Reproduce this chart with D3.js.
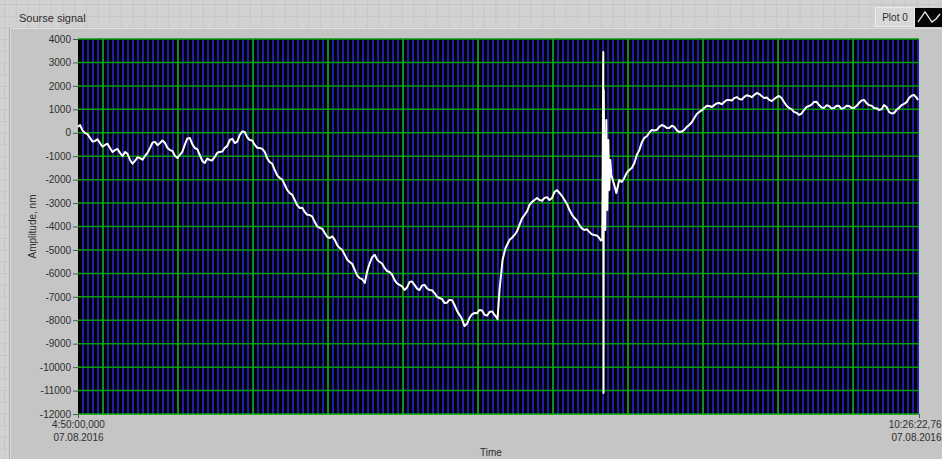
<!DOCTYPE html>
<html>
<head>
<meta charset="utf-8">
<script src="https://cdn.jsdelivr.net/npm/d3@7"></script>
<style>
  html, body { margin: 0; padding: 0; background: #d2d2d2; }
  svg { display: block; }
  text { font-family: "Liberation Sans", Arial, sans-serif; fill: #2e2e2e; }
</style>
</head>
<body>
<svg id="chart" width="942" height="459"></svg>
<script>
// Recording window: 07.08.2016 04:50:00,000 -> 10:26:22,760
const startTime = new Date(2016, 7, 7, 4, 50, 0, 0);
const endTime = new Date(2016, 7, 7, 10, 26, 22, 760);

// Sample times, minutes after 04:50:00 (ten per row, rows match the amplitude rows)
const minutes = [
  0, 0.8, 1.8, 2.8, 3.8, 4.8, 5.8, 6.8, 7.8, 8.8,
  9.8, 10.8, 11.8, 12.8, 13.8, 14.8, 15.8, 16.8, 17.8, 18.8,
  19.8, 20.8, 21.8, 22.8, 23.8, 24.8, 25.8, 26.8, 27.8, 28.8,
  29.8, 30.8, 31.8, 32.8, 33.8, 34.8, 35.8, 36.8, 37.8, 38.8,
  39.8, 40.7, 41.7, 42.7, 43.7, 44.7, 45.7, 46.7, 47.7, 48.7,
  49.7, 50.7, 51.7, 52.7, 53.7, 54.7, 55.7, 56.7, 57.7, 58.7,
  59.7, 60.7, 61.7, 62.7, 63.7, 64.7, 65.7, 66.7, 67.7, 68.7,
  69.7, 70.7, 71.7, 72.7, 73.7, 74.7, 75.7, 76.7, 77.7, 78.7,
  79.7, 80.7, 81.7, 82.7, 83.7, 84.7, 85.7, 86.7, 87.7, 88.7,
  89.7, 90.7, 91.7, 92.7, 93.7, 94.7, 95.7, 96.7, 97.7, 98.7,
  99.7, 100.7, 101.7, 102.7, 103.7, 104.7, 105.7, 106.7, 107.7, 108.7,
  109.7, 110.7, 111.7, 112.7, 113.7, 114.7, 115.7, 116.7, 117.7, 118.7,
  119.7, 120.6, 121.6, 122.6, 123.6, 124.6, 125.6, 126.6, 127.6, 128.6,
  129.6, 130.6, 131.6, 132.6, 133.6, 134.6, 135.6, 136.6, 137.6, 138.6,
  139.6, 140.6, 141.6, 142.6, 143.6, 144.6, 145.6, 146.6, 147.6, 148.6,
  149.6, 150.6, 151.6, 152.6, 153.6, 154.6, 155.6, 156.6, 157.6, 158.6,
  159.6, 160.6, 161.6, 162.6, 163.6, 164.6, 165.6, 166.6, 167.2, 167.8,
  168.6, 169.8, 171.0, 172.6, 173.6, 174.6, 175.6, 176.6, 177.6, 178.6,
  179.6, 180.6, 181.6, 182.6, 183.6, 184.6, 185.6, 186.6, 187.6, 188.6,
  189.6, 190.6, 191.6, 192.6, 193.6, 194.6, 195.6, 196.6, 197.6, 198.6,
  199.6, 200.5, 201.5, 202.5, 203.5, 204.5, 205.5, 206.5, 207.5, 208.5,
  209.1, 209.7, 210.1, 210.2, 210.3, 210.5, 210.9, 211.3, 211.7, 212.1,
  212.5, 212.9, 213.3, 214.5, 215.3, 216.5, 217.5, 218.5, 219.5, 220.5,
  221.5, 222.5, 223.5, 224.5, 225.5, 226.5, 227.5, 228.5, 229.5, 230.5,
  231.5, 232.5, 233.5, 234.5, 235.5, 236.5, 237.5, 238.5, 239.5, 240.5,
  241.5, 242.5, 243.5, 244.5, 245.5, 246.5, 247.5, 248.5, 249.5, 250.5,
  251.5, 252.5, 253.5, 254.5, 255.5, 256.5, 257.5, 258.5, 259.5, 260.5,
  261.5, 262.5, 263.5, 264.5, 265.5, 266.5, 267.5, 268.5, 269.5, 270.5,
  271.5, 272.5, 273.5, 274.5, 275.5, 276.5, 277.5, 278.5, 279.5, 280.4,
  281.4, 282.4, 283.4, 284.4, 285.4, 286.4, 287.4, 288.4, 289.4, 290.4,
  291.4, 292.4, 293.4, 294.4, 295.4, 296.4, 297.4, 298.4, 299.4, 300.4,
  301.4, 302.4, 303.4, 304.4, 305.4, 306.4, 307.4, 308.4, 309.4, 310.4,
  311.4, 312.4, 313.4, 314.4, 315.4, 316.4, 317.4, 318.4, 319.4, 320.4,
  321.4, 322.4, 323.4, 324.4, 325.4, 326.4, 327.4, 328.4, 329.4, 330.4,
  331.4, 332.4, 333.4, 334.4, 335.4, 336.0
];

// Amplitude, nm
const amplitude = [
  250, 330, 100, -10, -60, -220, -380, -350, -280, -440,
  -600, -520, -470, -650, -820, -740, -690, -860, -1000, -820,
  -900, -1160, -1320, -1200, -1050, -1080, -1150, -990, -860, -650,
  -420, -390, -530, -440, -330, -440, -650, -740, -780, -990,
  -1080, -950, -820, -520, -250, -220, -480, -650, -700, -950,
  -1200, -1290, -1100, -1160, -1180, -1030, -850, -820, -800, -650,
  -560, -310, -260, -440, -380, -95, 60, 30, -200, -310,
  -330, -520, -640, -650, -690, -820, -1100, -1250, -1330, -1590,
  -1820, -1930, -2000, -2230, -2450, -2570, -2650, -2870, -3100, -3210,
  -3200, -3380, -3500, -3510, -3580, -3810, -4000, -4060, -4100, -4280,
  -4450, -4490, -4420, -4570, -4800, -4920, -5000, -5210, -5420, -5510,
  -5600, -5850, -6100, -6200, -6250, -6410, -5900, -5560, -5300, -5210,
  -5420, -5510, -5580, -5770, -5900, -5940, -6050, -6280, -6430, -6490,
  -6550, -6710, -6600, -6370, -6350, -6490, -6650, -6710, -6520, -6490,
  -6640, -6710, -6720, -6840, -7000, -7050, -7100, -7260, -7250, -7130,
  -7150, -7350, -7600, -7770, -7950, -8250, -8150, -7900, -7750, -7690,
  -7700, -7560, -7580, -7770, -7800, -7650, -7620, -7770, -7850, -7950,
  -6710, -5430, -4920, -4570, -4480, -4360, -4200, -3930, -3650, -3510,
  -3350, -3080, -2950, -2870, -2780, -2870, -2900, -2780, -2750, -2870,
  -2780, -2530, -2450, -2570, -2700, -2870, -3050, -3300, -3500, -3640,
  -3750, -3930, -4080, -4150, -4120, -4230, -4330, -4360, -4380, -4490,
  -4600, -4570, 3450, -11100, 1820, -1500, -4150, 540, -3300, -310,
  -2440, -1160, -1800, -2230, -2570, -2020, -2100, -1930, -1700, -1590,
  -1500, -1300, -950, -740, -420, -220, -150, 0, 120, 100,
  120, 250, 330, 290, 200, 200, 300, 250, 100, 30,
  50, 120, 250, 330, 450, 630, 800, 890, 950, 1060,
  1150, 1140, 1100, 1180, 1260, 1270, 1220, 1310, 1400, 1400,
  1380, 1480, 1520, 1440, 1420, 1530, 1600, 1570, 1520, 1610,
  1700, 1650, 1560, 1480, 1500, 1400, 1350, 1440, 1520, 1570,
  1480, 1310, 1150, 1060, 1000, 890, 850, 760, 820, 970,
  1100, 1140, 1200, 1310, 1320, 1180, 1080, 1060, 1170, 1140,
  1040, 1060, 1150, 1140, 1020, 1060, 1150, 1140, 1060, 1060,
  1150, 1270, 1380, 1400, 1260, 1180, 1150, 1060, 1050, 970,
  1000, 1180, 1100, 890, 820, 840, 980, 1060, 1180, 1230,
  1300, 1480, 1580, 1610, 1500, 1400
];

const yTicks = d3.range(-12000, 4001, 1000);
const startLabel = ["4:50:00,000", "07.08.2016"];
const endLabel = ["10:26:22,76", "07.08.2016"];

const svg = d3.select("#chart");
const W = 942, H = 459;
const plot = { left: 78, top: 39, right: 919, bottom: 414 };

// Front-panel background with its alignment grid
svg.append("rect").attr("width", W).attr("height", H).attr("fill", "#d2d2d2");
const bgGrid = svg.append("g").attr("stroke", "#c6c6c6").attr("stroke-width", 1);
d3.range(4.5, W, 11.7).forEach(x => bgGrid.append("line").attr("x1", x).attr("x2", x).attr("y1", 0).attr("y2", H));
d3.range(4.5, H, 11.7).forEach(y => bgGrid.append("line").attr("x1", 0).attr("x2", W).attr("y1", y).attr("y2", y));

// Graph control body
svg.append("rect").attr("x", 9).attr("y", 28).attr("width", W - 9).attr("height", H - 28)
  .attr("fill", "#c5c5c5");
svg.append("line").attr("x1", 9).attr("x2", W).attr("y1", 28.5).attr("y2", 28.5).attr("stroke", "#dedede");
svg.append("line").attr("x1", 9.5).attr("x2", 9.5).attr("y1", 28).attr("y2", H).attr("stroke", "#a9a9a9");
svg.append("line").attr("x1", 10.5).attr("x2", 10.5).attr("y1", 29).attr("y2", H).attr("stroke", "#dcdcdc");

// Caption
svg.append("text").attr("x", 19).attr("y", 22).attr("font-size", 11).attr("fill", "#333")
  .text("Sourse signal");

// Plot legend
svg.append("rect").attr("x", 875.5).attr("y", 7.5).attr("width", 39).attr("height", 19)
  .attr("fill", "#d9d9d9").attr("stroke", "#ececec");
svg.append("text").attr("x", 895).attr("y", 21).attr("text-anchor", "middle").attr("font-size", 10)
  .attr("fill", "#333").text("Plot 0");
svg.append("rect").attr("x", 915).attr("y", 8).attr("width", 27).attr("height", 19).attr("fill", "#050505");
const glyph = [[918, 22], [925, 12], [932, 22], [936, 19], [940, 14]];
svg.append("path").attr("d", d3.line()(glyph)).attr("fill", "none").attr("stroke", "#f0f0f0").attr("stroke-width", 1.3);

// Scales
const x = d3.scaleTime().domain([startTime, endTime]).range([plot.left, plot.right]);
const y = d3.scaleLinear().domain([-12000, 4000]).range([plot.bottom, plot.top]);

// Plot area
svg.append("rect").attr("x", plot.left).attr("y", plot.top)
  .attr("width", plot.right - plot.left).attr("height", plot.bottom - plot.top).attr("fill", "#000");

const grid = svg.append("g");
// minor time grid, every 2 minutes
d3.timeMinute.every(2).range(startTime, endTime).slice(1).forEach(t => {
  grid.append("line").attr("x1", x(t)).attr("x2", x(t)).attr("y1", plot.top).attr("y2", plot.bottom)
    .attr("stroke", "#2626d2").attr("stroke-width", 1.6);
});
// major amplitude grid
yTicks.forEach(v => {
  grid.append("line").attr("x1", plot.left).attr("x2", plot.right).attr("y1", y(v)).attr("y2", y(v))
    .attr("stroke", "#00a000").attr("stroke-width", 1.5);
});
// major time grid, every 30 minutes
d3.timeMinute.every(30).range(startTime, endTime).forEach(t => {
  grid.append("line").attr("x1", x(t)).attr("x2", x(t)).attr("y1", plot.top).attr("y2", plot.bottom)
    .attr("stroke", "#0cb00c").attr("stroke-width", 1.5);
});

// Signal trace
const series = minutes.map((m, i) => ({ t: new Date(startTime.getTime() + m * 60000), v: amplitude[i] }));
svg.append("path")
  .datum(series)
  .attr("d", d3.line().x(d => x(d.t)).y(d => y(d.v)))
  .attr("fill", "none").attr("stroke", "#ffffff").attr("stroke-width", 2)
  .attr("stroke-linejoin", "round");

// Axes
const yAxis = svg.append("g").attr("transform", `translate(${plot.left},0)`)
  .call(d3.axisLeft(y).tickValues(yTicks).tickSize(5).tickPadding(2).tickFormat(d => String(d)));
yAxis.select(".domain").remove();
yAxis.selectAll(".tick line").attr("stroke", "#555");
yAxis.selectAll("text").attr("font-size", 10).attr("font-family", "Liberation Sans, Arial, sans-serif")
  .attr("fill", "#333");

const xAxis = svg.append("g").attr("transform", `translate(0,${plot.bottom})`)
  .call(d3.axisBottom(x).tickValues([startTime, endTime]).tickSize(4).tickPadding(3).tickFormat(() => ""));
xAxis.select(".domain").remove();
xAxis.selectAll(".tick line").attr("stroke", "#555");
xAxis.selectAll(".tick text").each(function(d, i) {
  const lines = i === 0 ? startLabel : endLabel;
  const t = d3.select(this).attr("font-size", 10).attr("fill", "#333")
    .attr("font-family", "Liberation Sans, Arial, sans-serif");
  // the last label is pulled left so it stays inside the panel
  if (i === 1) t.attr("text-anchor", "end");
  const xOff = i === 1 ? W - 1 - x(endTime) : 0;
  lines.forEach((s, k) => t.append("tspan").attr("x", xOff).attr("dy", k === 0 ? "0.71em" : "1.25em").text(s));
});

// Axis titles
svg.append("text").attr("x", 491).attr("y", 456).attr("text-anchor", "middle").attr("font-size", 10)
  .attr("fill", "#333").text("Time");
svg.append("text").attr("transform", `translate(36,${(plot.top + plot.bottom) / 2}) rotate(-90)`)
  .attr("text-anchor", "middle").attr("font-size", 10).attr("fill", "#333").text("Amplitude, nm");
</script>
</body>
</html>
